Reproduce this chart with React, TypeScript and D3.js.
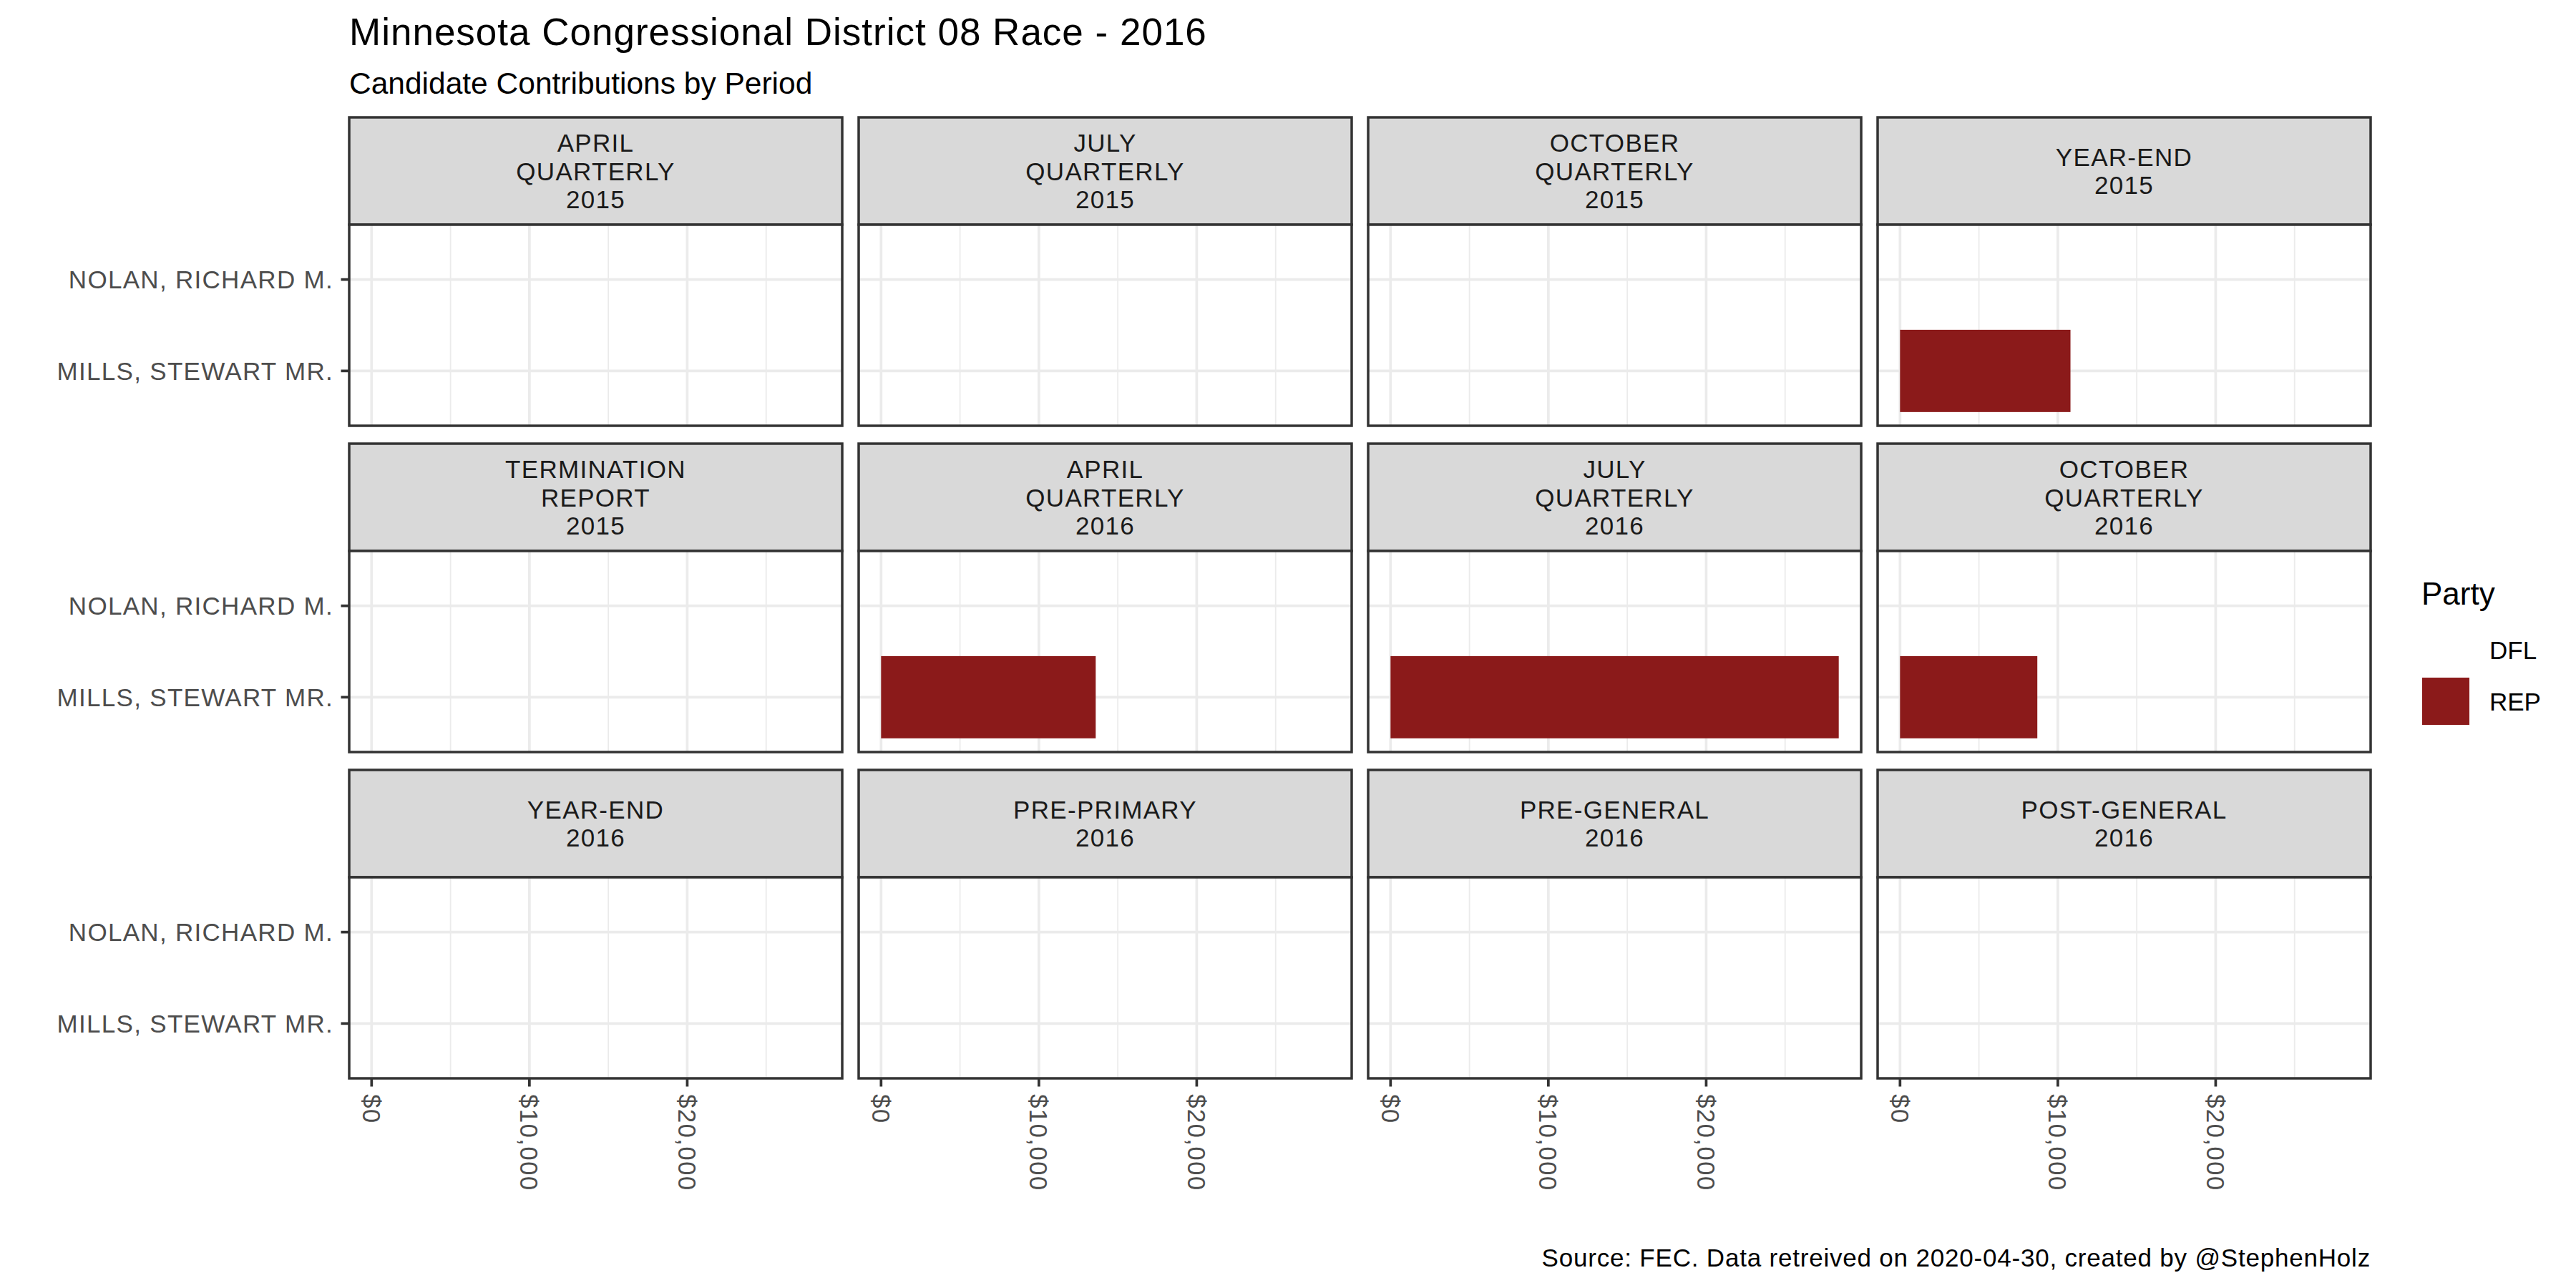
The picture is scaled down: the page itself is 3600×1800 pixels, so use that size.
import React from "react";
import * as d3 from "d3";

// candidates, bottom to top as drawn on the y axis
const candidates = ["MILLS, STEWART MR.", "NOLAN, RICHARD M."];

// report periods, in facet order
const periods = [
  "APRIL\nQUARTERLY\n2015",
  "JULY\nQUARTERLY\n2015",
  "OCTOBER\nQUARTERLY\n2015",
  "YEAR-END\n2015",
  "TERMINATION\nREPORT\n2015",
  "APRIL\nQUARTERLY\n2016",
  "JULY\nQUARTERLY\n2016",
  "OCTOBER\nQUARTERLY\n2016",
  "YEAR-END\n2016",
  "PRE-PRIMARY\n2016",
  "PRE-GENERAL\n2016",
  "POST-GENERAL\n2016",
];

// contributions per period (REP = Mills, DFL = Nolan)
const millsValues = [0, 0, 0, 10800, 0, 13600, 28400, 8700, 0, 0, 0, 0];
const nolanValues = [0, 0, 0, 0, 0, 0, 0, 0, 0, 0, 0, 0];

const parties = ["DFL", "REP"];
const partyColors = ["none", "#8B1A1A"];

const xTicks = [0, 10000, 20000];
const xMinor = [5000, 15000, 25000];

const FONT = "'Liberation Sans', Arial, Helvetica, sans-serif";

export default function App() {
  const W = 3600;
  const H = 1800;
  const left = 488;
  const right = 3313;
  const top = 164;
  const nCol = 4;
  const gap = 23;
  const stripH = 150;
  const panelH = 281;
  const rowGap = 25;
  const panelW = (right - left - gap * (nCol - 1)) / nCol;
  const smallLS = 1.3;

  const maxV = d3.max([...millsValues, ...nolanValues]) as number;
  const x = d3
    .scaleLinear()
    .domain([-0.05 * maxV, 1.05 * maxV])
    .range([0, panelW]);
  const y = d3
    .scalePoint<string>()
    .domain(candidates)
    .range([panelH, 0])
    .padding(0.6);
  const barH = y.step() * 0.9;
  const fmt = d3.format("$,");

  const rows = [
    { name: candidates[0], values: millsValues, fill: partyColors[1] },
    { name: candidates[1], values: nolanValues, fill: partyColors[0] },
  ];

  const nRow = Math.ceil(periods.length / nCol);

  return (
    <svg
      width={W}
      height={H}
      style={{ position: "absolute", left: 0, top: 0, background: "#fff" }}
      fontFamily={FONT}
    >
      <rect width={W} height={H} fill="#fff" />
      <text x={left} y={63} fontSize={53} fill="#000" letterSpacing={1}>
        Minnesota Congressional District 08 Race - 2016
      </text>
      <text x={left} y={131} fontSize={42.5} fill="#000">
        Candidate Contributions by Period
      </text>

      {periods.map((p, i) => {
        const col = i % nCol;
        const row = Math.floor(i / nCol);
        const px = left + col * (panelW + gap);
        const sy = top + row * (stripH + panelH + rowGap);
        const py = sy + stripH;
        const lines = p.split("\n");
        const lh = 39.5;
        const cy = sy + stripH / 2;
        return (
          <g key={i}>
            {/* strip */}
            <rect
              x={px}
              y={sy}
              width={panelW}
              height={stripH}
              fill="#D9D9D9"
              stroke="#333333"
              strokeWidth={3.5}
            />
            {lines.map((l, j) => (
              <text
                key={j}
                x={px + panelW / 2}
                y={cy + (j - (lines.length - 1) / 2) * lh}
                textAnchor="middle"
                dominantBaseline="central"
                fontSize={35}
                letterSpacing={smallLS}
                fill="#1A1A1A"
              >
                {l}
              </text>
            ))}
            {/* panel */}
            <g transform={`translate(${px},${py})`}>
              <rect width={panelW} height={panelH} fill="#fff" />
              {xMinor.map((t) => (
                <line
                  key={"m" + t}
                  x1={x(t)}
                  x2={x(t)}
                  y1={0}
                  y2={panelH}
                  stroke="#EBEBEB"
                  strokeWidth={1.8}
                />
              ))}
              {xTicks.map((t) => (
                <line
                  key={"M" + t}
                  x1={x(t)}
                  x2={x(t)}
                  y1={0}
                  y2={panelH}
                  stroke="#EBEBEB"
                  strokeWidth={3.7}
                />
              ))}
              {candidates.map((c) => (
                <line
                  key={c}
                  x1={0}
                  x2={panelW}
                  y1={y(c)}
                  y2={y(c)}
                  stroke="#EBEBEB"
                  strokeWidth={3.7}
                />
              ))}
              {rows.map((r) =>
                r.values[i] > 0 && r.fill !== "none" ? (
                  <rect
                    key={r.name}
                    x={x(0)}
                    y={(y(r.name) as number) - barH / 2}
                    width={x(r.values[i]) - x(0)}
                    height={barH}
                    fill={r.fill}
                  />
                ) : null
              )}
              <rect
                width={panelW}
                height={panelH}
                fill="none"
                stroke="#333333"
                strokeWidth={3.5}
              />
              {/* y axis on left column */}
              {col === 0 &&
                candidates.map((c) => (
                  <g key={"ya" + c}>
                    <line
                      x1={-11.5}
                      x2={0}
                      y1={y(c)}
                      y2={y(c)}
                      stroke="#333333"
                      strokeWidth={3.7}
                    />
                    <text
                      x={-22}
                      y={y(c)}
                      textAnchor="end"
                      dominantBaseline="central"
                      fontSize={35}
                      letterSpacing={smallLS}
                      fill="#4D4D4D"
                    >
                      {c}
                    </text>
                  </g>
                ))}
              {/* x axis on bottom row */}
              {row === nRow - 1 &&
                xTicks.map((t) => (
                  <g key={"xa" + t}>
                    <line
                      x1={x(t)}
                      x2={x(t)}
                      y1={panelH}
                      y2={panelH + 11.5}
                      stroke="#333333"
                      strokeWidth={3.7}
                    />
                    <text
                      transform={`translate(${x(t)},${panelH + 22}) rotate(90)`}
                      textAnchor="start"
                      dominantBaseline="central"
                      fontSize={35}
                      letterSpacing={smallLS}
                      fill="#4D4D4D"
                    >
                      {fmt(t)}
                    </text>
                  </g>
                ))}
            </g>
          </g>
        );
      })}

      {/* legend */}
      <text x={3384} y={845} fontSize={44} fill="#000">
        Party
      </text>
      {parties.map((p, k) => {
        const ky = 872 + k * 72;
        return (
          <g key={p}>
            <rect x={3382} y={ky} width={72} height={72} fill="#fff" />
            {partyColors[k] !== "none" && (
              <rect
                x={3385}
                y={ky + 3}
                width={66}
                height={66}
                fill={partyColors[k]}
              />
            )}
            <text
              x={3479}
              y={ky + 36}
              dominantBaseline="central"
              fontSize={35}
              fill="#000"
            >
              {p}
            </text>
          </g>
        );
      })}

      <text
        x={right}
        y={1770}
        textAnchor="end"
        fontSize={35}
        letterSpacing={0.8}
        fill="#000"
      >
        Source: FEC. Data retreived on 2020-04-30, created by @StephenHolz
      </text>
    </svg>
  );
}
